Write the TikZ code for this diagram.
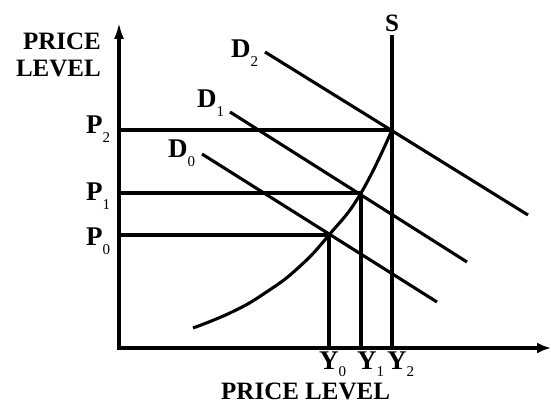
\documentclass[tikz,border=0pt]{standalone}
\usepackage{fontspec}
\setmainfont{Liberation Serif}
\usetikzlibrary{arrows.meta}
\newcommand\mylab[2]{\textbf{#1}\raisebox{-9pt}{\fontsize{15}{15}\selectfont #2}}
\newcommand\myylab[2]{\textbf{#1}\raisebox{-7pt}{\fontsize{15}{15}\selectfont #2}}
\begin{document}
\begin{tikzpicture}[x=1pt,y=-1pt,
  ax/.style={line width=4pt, {Latex[length=17pt,width=10pt]}-{Latex[length=14pt,width=11pt]}},
  ln/.style={line width=3.1pt},
  lab/.style={inner sep=0pt, font=\fontsize{25}{25}\selectfont},
  blab/.style={inner sep=0pt, font=\fontsize{27}{27}\selectfont}]
\useasboundingbox (0,0) rectangle (551,404);
% key points
\coordinate (O) at (119,348);
\coordinate (ytop) at (119,22);
\coordinate (xend) at (551,348);
\coordinate (E0) at (329,235);
\coordinate (E1) at (361,193);
\coordinate (E2) at (392,130);
\coordinate (p0) at (119,235);
\coordinate (p1) at (119,193);
\coordinate (p2) at (119,130);
\coordinate (q0) at (329,348);
\coordinate (q1) at (361,348);
\coordinate (q2) at (392,348);
\coordinate (stop) at (392,35);
\coordinate (d2a) at (265,52);
\coordinate (d2b) at (528,215);
\coordinate (d1a) at (230,112);
\coordinate (d1b) at (467,262);
\coordinate (d0a) at (202,154);
\coordinate (d0b) at (437,302);
\coordinate (s0) at (193,328);
% axes
\draw[ax] (ytop) -- (O) -- (xend);
% price lines
\draw[ln] (p2) -- (E2);
\draw[ln] (p1) -- (E1);
\draw[ln] (p0) -- (E0);
% output lines
\draw[ln] (E0) -- (q0);
\draw[ln] (E1) -- (q1);
\draw[ln] (stop) -- (q2);
% demand curves
\draw[ln] (d2a) -- (d2b);
\draw[ln] (d1a) -- (d1b);
\draw[ln] (d0a) -- (d0b);
% supply curve
\draw[ln] plot[smooth, tension=0.8] coordinates {(s0) (232,312) (265,293) (298,268) (E0) (E1) (E2)};
% labels
\node[lab, anchor=base east] (plA) at (101,49) {\textbf{PRICE}};
\node[lab, anchor=base east] (plB) at (101,77) {\textbf{LEVEL}};
\node[blab, anchor=base west] (P2) at (86,133) {\mylab{P}{2}};
\node[blab, anchor=base west] (P1) at (86,200) {\mylab{P}{1}};
\node[blab, anchor=base west] (P0) at (86,245) {\mylab{P}{0}};
\node[blab, anchor=base west] (D2) at (231,58) {\mylab{D}{2}};
\node[blab, anchor=base west] (D1) at (197,107) {\mylab{D}{1}};
\node[blab, anchor=base west] (D0) at (168,157) {\mylab{D}{0}};
\node[lab, anchor=base] (S) at (392,32) {\textbf{S}};
\node[blab, anchor=base west] (Y0) at (319,369) {\myylab{Y}{0}};
\node[blab, anchor=base west] (Y1) at (357,369) {\myylab{Y}{1}};
\node[blab, anchor=base west] (Y2) at (387,369) {\myylab{Y}{2}};
\node[lab, anchor=base west] (xl) at (221,399) {\textbf{PRICE LEVEL}};
\end{tikzpicture}
\end{document}
